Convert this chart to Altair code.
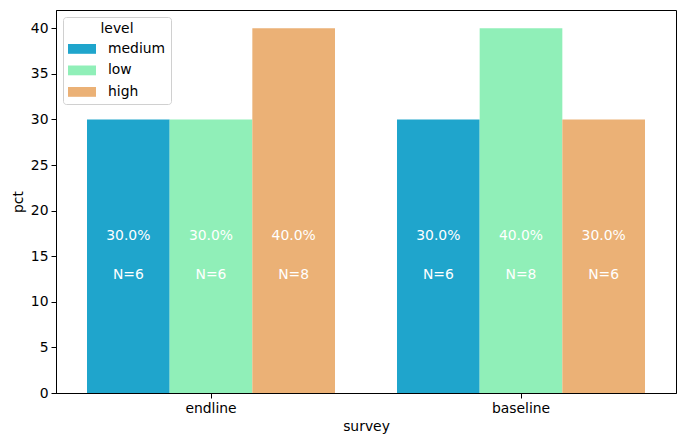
import altair as alt
import pandas as pd

surveys = ["endline", "endline", "endline", "baseline", "baseline", "baseline"]
levels = ["medium", "low", "high", "medium", "low", "high"]
pcts = [30.0, 30.0, 40.0, 30.0, 40.0, 30.0]
counts = [6, 6, 8, 6, 8, 6]

survey_order = ["endline", "baseline"]
level_order = ["medium", "low", "high"]
level_colors = ["#1fa5cc", "#90efb8", "#ebb176"]

df = pd.DataFrame({"survey": surveys, "level": levels, "pct": pcts, "n": counts})
df["pct_label"] = df["pct"].map(lambda v: f"{v:.1f}%")
df["n_label"] = df["n"].map(lambda v: f"N={v}")

FONT = "DejaVu Sans"
FS = 13.9

x_enc = alt.X("survey:N", sort=survey_order, title="survey",
              scale=alt.Scale(paddingInner=0.2, paddingOuter=0.1),
              axis=alt.Axis(labelAngle=0))
xo_enc = alt.XOffset("level:N", sort=level_order)

bars = alt.Chart(df).mark_bar().encode(
    x=x_enc,
    xOffset=xo_enc,
    y=alt.Y("pct:Q", title="pct", scale=alt.Scale(domain=[0, 42], nice=False),
            axis=alt.Axis(values=[0, 5, 10, 15, 20, 25, 30, 35, 40])),
    color=alt.Color("level:N", sort=level_order,
                    scale=alt.Scale(domain=level_order, range=level_colors),
                    legend=alt.Legend(title="level", orient="none", legendX=7, legendY=7,
                                      symbolType="M-1,-0.7H3V0.7H-1Z", symbolSize=196,
                                      symbolStrokeWidth=0, titleAnchor="middle",
                                      fillColor="white", strokeColor="#d0d0d0",
                                      cornerRadius=3, padding=5, rowPadding=7.5,
                                      labelFontSize=FS, titleFontSize=FS,
                                      titleFontWeight="normal", labelOffset=26,
                                      titlePadding=6, labelColor="black", titleColor="black")),
)

pct_text = alt.Chart(df).mark_text(color="white", fontSize=FS, font=FONT, baseline="middle").encode(
    x=x_enc, xOffset=xo_enc, y=alt.datum(17.2), text="pct_label:N")
n_text = alt.Chart(df).mark_text(color="white", fontSize=FS, font=FONT, baseline="middle").encode(
    x=x_enc, xOffset=xo_enc, y=alt.datum(12.9), text="n_label:N")

chart = alt.layer(bars, pct_text, n_text).properties(
    width=670, height=426,
    autosize=alt.AutoSizeParams(type="fit", contains="padding"),
    padding={"left": 3, "top": 2, "right": 2, "bottom": 0},
).configure_view(stroke="black", strokeWidth=1).configure_axis(
    grid=False, labelFont=FONT, titleFont=FONT, labelFontSize=FS, titleFontSize=FS,
    titleFontWeight="normal", labelColor="black", titleColor="black",
    tickColor="black", domainColor="black", tickSize=5, labelPadding=3, titlePadding=5,
).configure_legend(labelFont=FONT, titleFont=FONT)

chart.save("out.html", embed_options={"renderer": "svg", "actions": False})
